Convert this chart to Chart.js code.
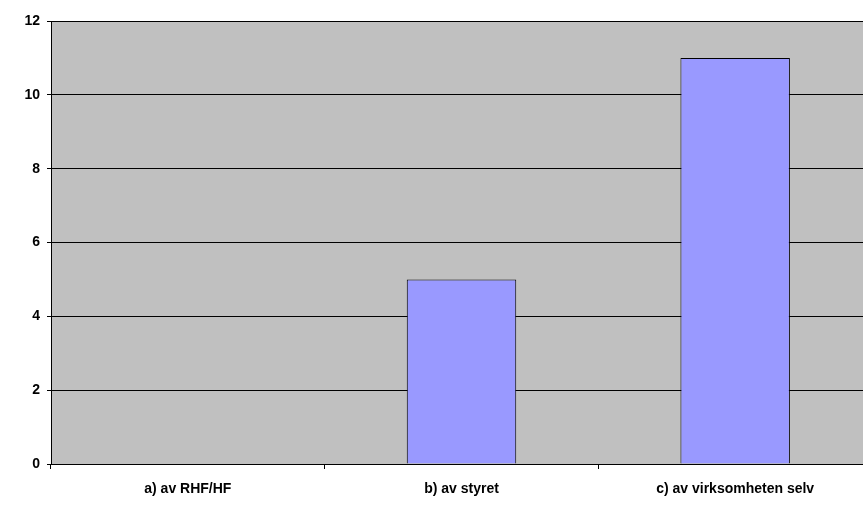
<!DOCTYPE html>
<html>
<head>
<meta charset="utf-8">
<script src="https://cdn.jsdelivr.net/npm/chart.js@4"></script>
<style>
    html, body { margin: 0; padding: 0; background: #fff; overflow: hidden; }
    #wrap { position: relative; width: 872px; height: 509px; }
</style>
</head>
<body>
<div id="wrap"><canvas id="myChart"></canvas></div>
<script>
// ---------------- data ----------------
const categories = ["a) av RHF/HF", "b) av styret", "c) av virksomheten selv"];
const values = [0, 5, 11];
const yTicks = [0, 2, 4, 6, 8, 10, 12];

// gray plot area like the old excel charts
const plotBackground = {
    id: "plotBackground",
    beforeDraw(chart) {
        const { ctx, chartArea } = chart;
        ctx.save();
        ctx.fillStyle = "#C0C0C0";
        ctx.fillRect(chartArea.left, chartArea.top, chartArea.right - chartArea.left, chartArea.bottom - chartArea.top);
        ctx.restore();
    }
};

const font = { family: "'Liberation Sans', Arial, sans-serif", size: 14, weight: "bold" };

new Chart(document.getElementById("myChart"), {
    type: "bar",
    data: {
        labels: categories,
        datasets: [{
            data: values,
            backgroundColor: "#9999FF",
            borderColor: "#000000",
            borderWidth: 1,
            categoryPercentage: 1,
            barPercentage: 0.4
        }]
    },
    options: {
        responsive: true,
        maintainAspectRatio: false,
        animation: false,
        layout: { padding: { top: 21, right: 0, bottom: 0, left: 0 } },
        plugins: { legend: { display: false }, tooltip: { enabled: false } },
        scales: {
            x: {
                offset: true,
                grid: { offset: true, drawOnChartArea: false, color: "#000", tickLength: 5 },
                border: { color: "#000" },
                ticks: { color: "#000", font: font, padding: 12, maxRotation: 0 },
                afterFit: (scale) => { scale.height = 45; }
            },
            y: {
                min: 0,
                max: 12,
                afterBuildTicks: (scale) => { scale.ticks = yTicks.map(v => ({ value: v })); },
                grid: { color: "#000", tickLength: 4 },
                border: { color: "#000" },
                ticks: { color: "#000", font: font, padding: 7 },
                afterFit: (scale) => { scale.width = 51; }
            }
        }
    },
    plugins: [plotBackground]
});
</script>
</body>
</html>
